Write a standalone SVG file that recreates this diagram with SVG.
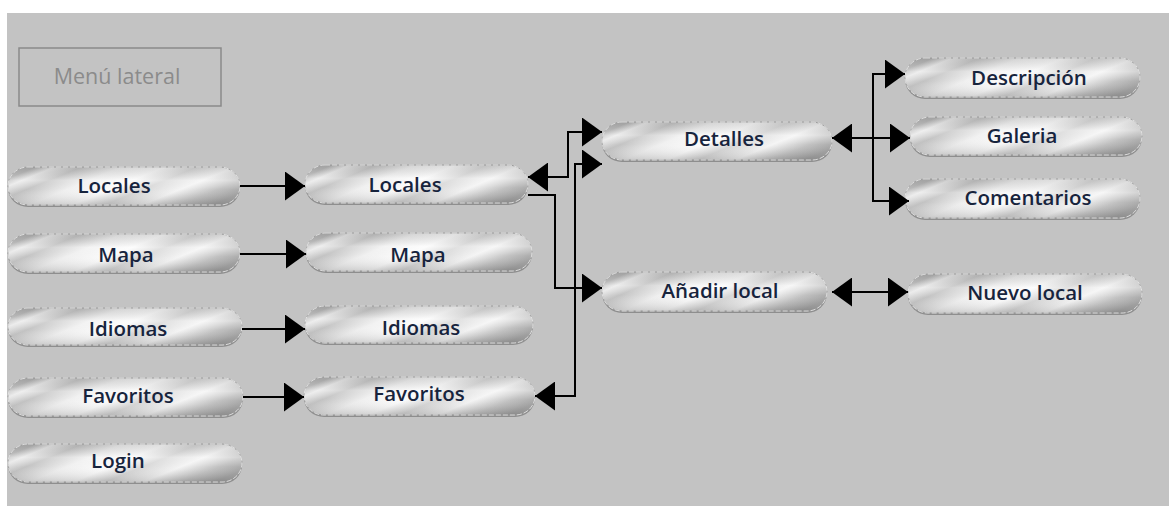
<svg xmlns="http://www.w3.org/2000/svg" width="1169" height="506" viewBox="0 0 1169 506">
<defs>
<linearGradient id="metal" x1="0" y1="0.3" x2="1" y2="0.7">
<stop offset="0" stop-color="#a9a9a9"/>
<stop offset="0.07" stop-color="#e6e6e6"/>
<stop offset="0.17" stop-color="#bcbcbc"/>
<stop offset="0.32" stop-color="#eeeeee"/>
<stop offset="0.48" stop-color="#fbfbfb"/>
<stop offset="0.6" stop-color="#d3d3d3"/>
<stop offset="0.74" stop-color="#f3f3f3"/>
<stop offset="0.88" stop-color="#bababa"/>
<stop offset="1" stop-color="#989898"/>
</linearGradient>
<linearGradient id="sheen" x1="0" y1="0" x2="0" y2="1">
<stop offset="0" stop-color="#8a8a8a" stop-opacity="0.25"/>
<stop offset="0.35" stop-color="#ffffff" stop-opacity="0.35"/>
<stop offset="0.6" stop-color="#ffffff" stop-opacity="0.1"/>
<stop offset="1" stop-color="#6e6e6e" stop-opacity="0.3"/>
</linearGradient>
<marker id="arr" viewBox="0 0 20 29" markerWidth="20" markerHeight="29" markerUnits="userSpaceOnUse" refX="20" refY="14.5" orient="auto-start-reverse">
<path d="M0,0 L20,14.5 L0,29 Z" fill="#000"/>
</marker>
</defs>
<style>
.bg{fill:#c3c3c3}
.shadow{fill:#8e8e8e}
.pill{fill:url(#metal);stroke:#a0a0a0;stroke-width:1}
.gloss{fill:url(#sheen);stroke:#ffffff;stroke-width:0.8;stroke-dasharray:5 2;stroke-opacity:0.8}
.lbl{font-family:"Open Sans","Noto Sans","Liberation Sans",sans-serif;font-size:20.5px;font-weight:600;fill:#17243d;text-anchor:middle}
.conn path{fill:none;stroke:#000;stroke-width:2;marker-end:url(#arr)}
.conn path.both{marker-start:url(#arr)}
.menu{fill:none;stroke:#8a8a8a;stroke-width:1.5}
.menutxt{font-family:"Open Sans","Noto Sans","Liberation Sans",sans-serif;font-size:21.5px;fill:#8b8b8b;text-anchor:middle}
</style>
<rect x="0" y="0" width="1169" height="506" fill="#ffffff"/>
<rect class="bg" x="7" y="13" width="1162" height="493"/>

<g id="menu-lateral">
<rect class="menu" x="19" y="48" width="202" height="58"/>
<text class="menutxt" x="117" y="84">Menú lateral</text>
</g>

<g id="n-locales-l">
<rect class="shadow" x="8" y="169" width="232" height="38" rx="20" ry="19"/>
<rect class="pill" x="8" y="167" width="232" height="38" rx="20" ry="19"/>
<rect class="gloss" x="8" y="167" width="232" height="38" rx="20" ry="19"/>
<text class="lbl" x="114" y="193">Locales</text>
</g>
<g id="n-mapa-l">
<rect class="shadow" x="8" y="236" width="232" height="38" rx="20" ry="19"/>
<rect class="pill" x="8" y="234" width="232" height="38" rx="20" ry="19"/>
<rect class="gloss" x="8" y="234" width="232" height="38" rx="20" ry="19"/>
<text class="lbl" x="126" y="262">Mapa</text>
</g>
<g id="n-idiomas-l">
<rect class="shadow" x="8" y="310" width="234" height="37" rx="20" ry="18.5"/>
<rect class="pill" x="8" y="308" width="234" height="37" rx="20" ry="18.5"/>
<rect class="gloss" x="8" y="308" width="234" height="37" rx="20" ry="18.5"/>
<text class="lbl" x="128" y="336">Idiomas</text>
</g>
<g id="n-favoritos-l">
<rect class="shadow" x="8" y="380" width="235" height="38" rx="20" ry="19"/>
<rect class="pill" x="8" y="378" width="235" height="38" rx="20" ry="19"/>
<rect class="gloss" x="8" y="378" width="235" height="38" rx="20" ry="19"/>
<text class="lbl" x="128" y="403">Favoritos</text>
</g>
<g id="n-login">
<rect class="shadow" x="8" y="446" width="234" height="38" rx="20" ry="19"/>
<rect class="pill" x="8" y="444" width="234" height="38" rx="20" ry="19"/>
<rect class="gloss" x="8" y="444" width="234" height="38" rx="20" ry="19"/>
<text class="lbl" x="118" y="468">Login</text>
</g>

<g id="n-locales-m">
<rect class="shadow" x="305" y="167" width="223" height="38" rx="20" ry="19"/>
<rect class="pill" x="305" y="165" width="223" height="38" rx="20" ry="19"/>
<rect class="gloss" x="305" y="165" width="223" height="38" rx="20" ry="19"/>
<text class="lbl" x="405" y="192">Locales</text>
</g>
<g id="n-mapa-m">
<rect class="shadow" x="306" y="235" width="226" height="38" rx="20" ry="19"/>
<rect class="pill" x="306" y="233" width="226" height="38" rx="20" ry="19"/>
<rect class="gloss" x="306" y="233" width="226" height="38" rx="20" ry="19"/>
<text class="lbl" x="418" y="262">Mapa</text>
</g>
<g id="n-idiomas-m">
<rect class="shadow" x="305" y="308" width="228" height="37" rx="20" ry="18.5"/>
<rect class="pill" x="305" y="306" width="228" height="37" rx="20" ry="18.5"/>
<rect class="gloss" x="305" y="306" width="228" height="37" rx="20" ry="18.5"/>
<text class="lbl" x="421" y="335">Idiomas</text>
</g>
<g id="n-favoritos-m">
<rect class="shadow" x="304" y="379" width="231" height="38" rx="20" ry="19"/>
<rect class="pill" x="304" y="377" width="231" height="38" rx="20" ry="19"/>
<rect class="gloss" x="304" y="377" width="231" height="38" rx="20" ry="19"/>
<text class="lbl" x="419" y="401">Favoritos</text>
</g>

<g id="n-detalles">
<rect class="shadow" x="602" y="124" width="230" height="38" rx="20" ry="19"/>
<rect class="pill" x="602" y="122" width="230" height="38" rx="20" ry="19"/>
<rect class="gloss" x="602" y="122" width="230" height="38" rx="20" ry="19"/>
<text class="lbl" x="724" y="146">Detalles</text>
</g>
<g id="n-anadir">
<rect class="shadow" x="602" y="274" width="225" height="39" rx="20" ry="19.5"/>
<rect class="pill" x="602" y="272" width="225" height="39" rx="20" ry="19.5"/>
<rect class="gloss" x="602" y="272" width="225" height="39" rx="20" ry="19.5"/>
<text class="lbl" x="720" y="298">Añadir local</text>
</g>
<g id="n-descripcion">
<rect class="shadow" x="905" y="60" width="235" height="39" rx="20" ry="19.5"/>
<rect class="pill" x="905" y="58" width="235" height="39" rx="20" ry="19.5"/>
<rect class="gloss" x="905" y="58" width="235" height="39" rx="20" ry="19.5"/>
<text class="lbl" x="1029" y="85">Descripción</text>
</g>
<g id="n-galeria">
<rect class="shadow" x="910" y="119" width="232" height="38" rx="20" ry="19"/>
<rect class="pill" x="910" y="117" width="232" height="38" rx="20" ry="19"/>
<rect class="gloss" x="910" y="117" width="232" height="38" rx="20" ry="19"/>
<text class="lbl" x="1022" y="143">Galeria</text>
</g>
<g id="n-comentarios">
<rect class="shadow" x="905" y="181" width="235" height="39" rx="20" ry="19.5"/>
<rect class="pill" x="905" y="179" width="235" height="39" rx="20" ry="19.5"/>
<rect class="gloss" x="905" y="179" width="235" height="39" rx="20" ry="19.5"/>
<text class="lbl" x="1028" y="205">Comentarios</text>
</g>
<g id="n-nuevo">
<rect class="shadow" x="908" y="276" width="234" height="39" rx="20" ry="19.5"/>
<rect class="pill" x="908" y="274" width="234" height="39" rx="20" ry="19.5"/>
<rect class="gloss" x="908" y="274" width="234" height="39" rx="20" ry="19.5"/>
<text class="lbl" x="1025" y="300">Nuevo local</text>
</g>

<g id="connectors" class="conn">
<path d="M240,186 H305"/>
<path d="M240,254 H306"/>
<path d="M242,329 H305"/>
<path d="M243,397 H304"/>
<path class="both" d="M528,177 H568 V132 H602"/>
<path d="M528,195 H555 V288 H602"/>
<path class="both" d="M535,396 H575 V164 H602"/>
<path class="both" d="M832,138 H873 V74 H905"/>
<path d="M873,138 H910"/>
<path d="M873,138 V201 H909"/>
<path class="both" d="M832,292 H908"/>
</g>
</svg>
